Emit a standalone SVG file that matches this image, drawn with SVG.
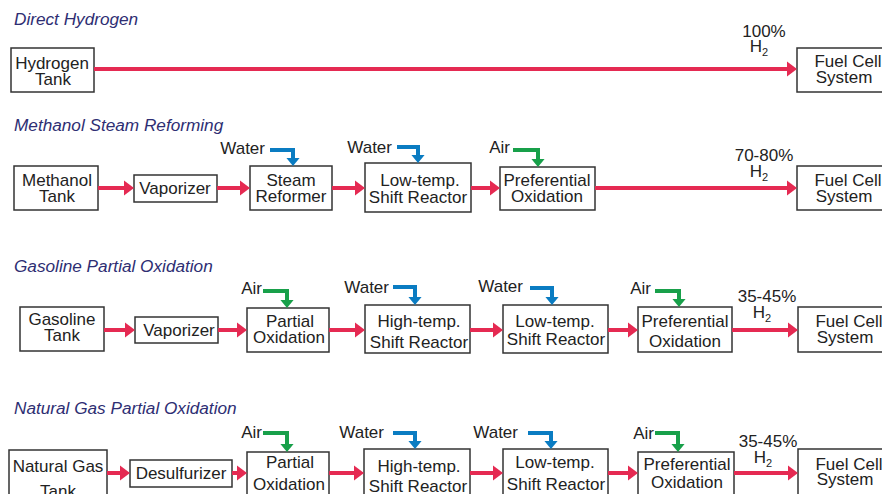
<svg xmlns="http://www.w3.org/2000/svg" width="882" height="494" viewBox="0 0 882 494">
<style>
.bg{fill:#fff}
.box{fill:#fff;stroke:#333;stroke-width:1.5}
.t{font-family:"Liberation Sans",Arial,sans-serif;font-size:17px;fill:#222;text-anchor:middle}
.lbl{font-family:"Liberation Sans",Arial,sans-serif;font-size:17px;fill:#222;text-anchor:end}
.pct{font-family:"Liberation Sans",Arial,sans-serif;font-size:17px;fill:#222;text-anchor:middle}
.sub{font-size:11px}
.title{font-family:"Liberation Sans",Arial,sans-serif;font-size:17.2px;font-style:italic;fill:#2e2e73}
.red{stroke:#e52a52;stroke-width:4;fill:none;marker-end:url(#ar)}
.blue{stroke:#0a7cc2;stroke-width:4;fill:none;marker-end:url(#ab)}
.green{stroke:#18a04a;stroke-width:4;fill:none;marker-end:url(#ag)}
</style>
<defs>
<marker id="ar" markerUnits="userSpaceOnUse" markerWidth="11" markerHeight="16" viewBox="0 0 11 16" refX="0.5" refY="8" orient="auto"><path d="M0,0 L10.5,8 L0,16 z" fill="#e52a52"/></marker>
<marker id="ab" markerUnits="userSpaceOnUse" markerWidth="9" markerHeight="14" viewBox="0 0 9 14" refX="0.5" refY="7" orient="auto"><path d="M0,0 L8.5,7 L0,14 z" fill="#0a7cc2"/></marker>
<marker id="ag" markerUnits="userSpaceOnUse" markerWidth="9" markerHeight="14" viewBox="0 0 9 14" refX="0.5" refY="7" orient="auto"><path d="M0,0 L8.5,7 L0,14 z" fill="#18a04a"/></marker>
</defs>
<rect class="bg" x="0" y="0" width="882" height="494"/>

<!-- titles -->
<g id="titles">
<text class="title" x="14" y="25">Direct Hydrogen</text>
<text class="title" x="14" y="131">Methanol Steam Reforming</text>
<text class="title" x="14" y="272">Gasoline Partial Oxidation</text>
<text class="title" x="14" y="414">Natural Gas Partial Oxidation</text>
</g>

<!-- Row 1 -->
<g id="hydrogen-tank"><rect class="box" x="11" y="48" width="83" height="44"/><text class="t" x="52" y="69">Hydrogen</text><text class="t" x="53" y="85">Tank</text></g>
<g id="fc1"><rect class="box" x="797" y="48" width="100" height="44"/><text class="t" x="848" y="67">Fuel Cell</text><text class="t" x="844" y="83">System</text></g>

<!-- Row 2 -->
<g id="methanol-tank"><rect class="box" x="14" y="166" width="84" height="44"/><text class="t" x="57" y="186">Methanol</text><text class="t" x="57" y="202">Tank</text></g>
<g id="vap2"><rect class="box" x="134" y="175" width="83" height="27"/><text class="t" x="175" y="194">Vaporizer</text></g>
<g id="steam-reformer"><rect class="box" x="250" y="166" width="82" height="44"/><text class="t" x="291" y="186">Steam</text><text class="t" x="291" y="202">Reformer</text></g>
<g id="lts2"><rect class="box" x="365" y="163" width="106" height="49"/><text class="t" x="420" y="186">Low-temp.</text><text class="t" x="418" y="203">Shift Reactor</text></g>
<g id="prox2"><rect class="box" x="500" y="167" width="95" height="43"/><text class="t" x="547" y="186">Preferential</text><text class="t" x="547" y="202">Oxidation</text></g>
<g id="fc2"><rect class="box" x="797" y="166" width="100" height="44"/><text class="t" x="848" y="186">Fuel Cell</text><text class="t" x="844" y="202">System</text></g>

<!-- Row 3 -->
<g id="gasoline-tank"><rect class="box" x="20" y="307" width="84" height="44"/><text class="t" x="62" y="325">Gasoline</text><text class="t" x="62" y="341">Tank</text></g>
<g id="vap3"><rect class="box" x="135" y="317" width="83" height="26"/><text class="t" x="179" y="336">Vaporizer</text></g>
<g id="pox3"><rect class="box" x="247" y="308" width="82" height="44"/><text class="t" x="290" y="327">Partial</text><text class="t" x="289" y="343">Oxidation</text></g>
<g id="hts3"><rect class="box" x="365" y="305" width="105" height="48"/><text class="t" x="419" y="327">High-temp.</text><text class="t" x="419" y="348">Shift Reactor</text></g>
<g id="lts3"><rect class="box" x="503" y="305" width="105" height="48"/><text class="t" x="555" y="327">Low-temp.</text><text class="t" x="556" y="345">Shift Reactor</text></g>
<g id="prox3"><rect class="box" x="638" y="307" width="94" height="45"/><text class="t" x="685" y="327">Preferential</text><text class="t" x="685" y="347">Oxidation</text></g>
<g id="fc3"><rect class="box" x="798" y="307" width="100" height="45"/><text class="t" x="849" y="327">Fuel Cell</text><text class="t" x="845" y="343">System</text></g>

<!-- Row 4 -->
<g id="natgas-tank"><rect class="box" x="9" y="450" width="98" height="60"/><text class="t" x="58" y="472">Natural Gas</text><text class="t" x="58" y="497">Tank</text></g>
<g id="desulf"><rect class="box" x="130" y="460" width="102" height="27"/><text class="t" x="181" y="479">Desulfurizer</text></g>
<g id="pox4"><rect class="box" x="247" y="452" width="82" height="60"/><text class="t" x="290" y="468">Partial</text><text class="t" x="289" y="490">Oxidation</text></g>
<g id="hts4"><rect class="box" x="364" y="449" width="106" height="60"/><text class="t" x="419" y="472">High-temp.</text><text class="t" x="418" y="492">Shift Reactor</text></g>
<g id="lts4"><rect class="box" x="503" y="449" width="105" height="60"/><text class="t" x="555" y="468">Low-temp.</text><text class="t" x="556" y="490">Shift Reactor</text></g>
<g id="prox4"><rect class="box" x="638" y="452" width="96" height="60"/><text class="t" x="687" y="470">Preferential</text><text class="t" x="687" y="488">Oxidation</text></g>
<g id="fc4"><rect class="box" x="798" y="449" width="100" height="60"/><text class="t" x="849" y="470">Fuel Cell</text><text class="t" x="845" y="485">System</text></g>

<!-- inlet labels -->
<g id="labels">
<text class="lbl" x="265" y="154">Water</text>
<text class="lbl" x="392" y="153">Water</text>
<text class="lbl" x="510" y="153">Air</text>
<text class="lbl" x="262" y="294">Air</text>
<text class="lbl" x="389" y="293">Water</text>
<text class="lbl" x="523" y="292">Water</text>
<text class="lbl" x="651" y="294">Air</text>
<text class="lbl" x="262" y="438">Air</text>
<text class="lbl" x="384" y="438">Water</text>
<text class="lbl" x="518" y="438">Water</text>
<text class="lbl" x="654" y="439">Air</text>
<text class="pct" x="764" y="37">100%</text>
<text class="pct" x="759" y="52">H<tspan class="sub" dy="4">2</tspan></text>
<text class="pct" x="764" y="161">70-80%</text>
<text class="pct" x="759" y="177">H<tspan class="sub" dy="4">2</tspan></text>
<text class="pct" x="767" y="302">35-45%</text>
<text class="pct" x="762" y="318">H<tspan class="sub" dy="4">2</tspan></text>
<text class="pct" x="768" y="447">35-45%</text>
<text class="pct" x="763" y="463">H<tspan class="sub" dy="4">2</tspan></text>
</g>

<!-- connectors -->
<g id="connectors">
<line class="red" x1="94" y1="69" x2="787" y2="69"/>

<line class="red" x1="98" y1="188" x2="124" y2="188"/>
<line class="red" x1="217" y1="188" x2="240" y2="188"/>
<line class="red" x1="332" y1="188" x2="355" y2="188"/>
<line class="red" x1="471" y1="188" x2="490" y2="188"/>
<line class="red" x1="595" y1="188" x2="787" y2="188"/>

<line class="red" x1="104" y1="330" x2="125" y2="330"/>
<line class="red" x1="218" y1="330" x2="237" y2="330"/>
<line class="red" x1="329" y1="330" x2="355" y2="330"/>
<line class="red" x1="470" y1="330" x2="493" y2="330"/>
<line class="red" x1="608" y1="330" x2="628" y2="330"/>
<line class="red" x1="732" y1="330" x2="788" y2="330"/>

<line class="red" x1="107" y1="473" x2="120" y2="473"/>
<line class="red" x1="232" y1="473" x2="237" y2="473"/>
<line class="red" x1="329" y1="473" x2="354" y2="473"/>
<line class="red" x1="470" y1="473" x2="493" y2="473"/>
<line class="red" x1="608" y1="473" x2="628" y2="473"/>
<line class="red" x1="734" y1="473" x2="788" y2="473"/>

<polyline class="blue" points="270,150 293,150 293,158"/>
<polyline class="blue" points="397,147 418,147 418,155"/>
<polyline class="green" points="513,150 538,150 538,159"/>

<polyline class="green" points="263,291 287,291 287,300"/>
<polyline class="blue" points="393,287 415,287 415,297"/>
<polyline class="blue" points="530,288 552,288 552,297"/>
<polyline class="green" points="655,291 679,291 679,299"/>

<polyline class="green" points="263,433 287,433 287,444"/>
<polyline class="blue" points="393,433 415,433 415,441"/>
<polyline class="blue" points="528,433 551,433 551,441"/>
<polyline class="green" points="655,433 678,433 678,444"/>
</g>
</svg>
